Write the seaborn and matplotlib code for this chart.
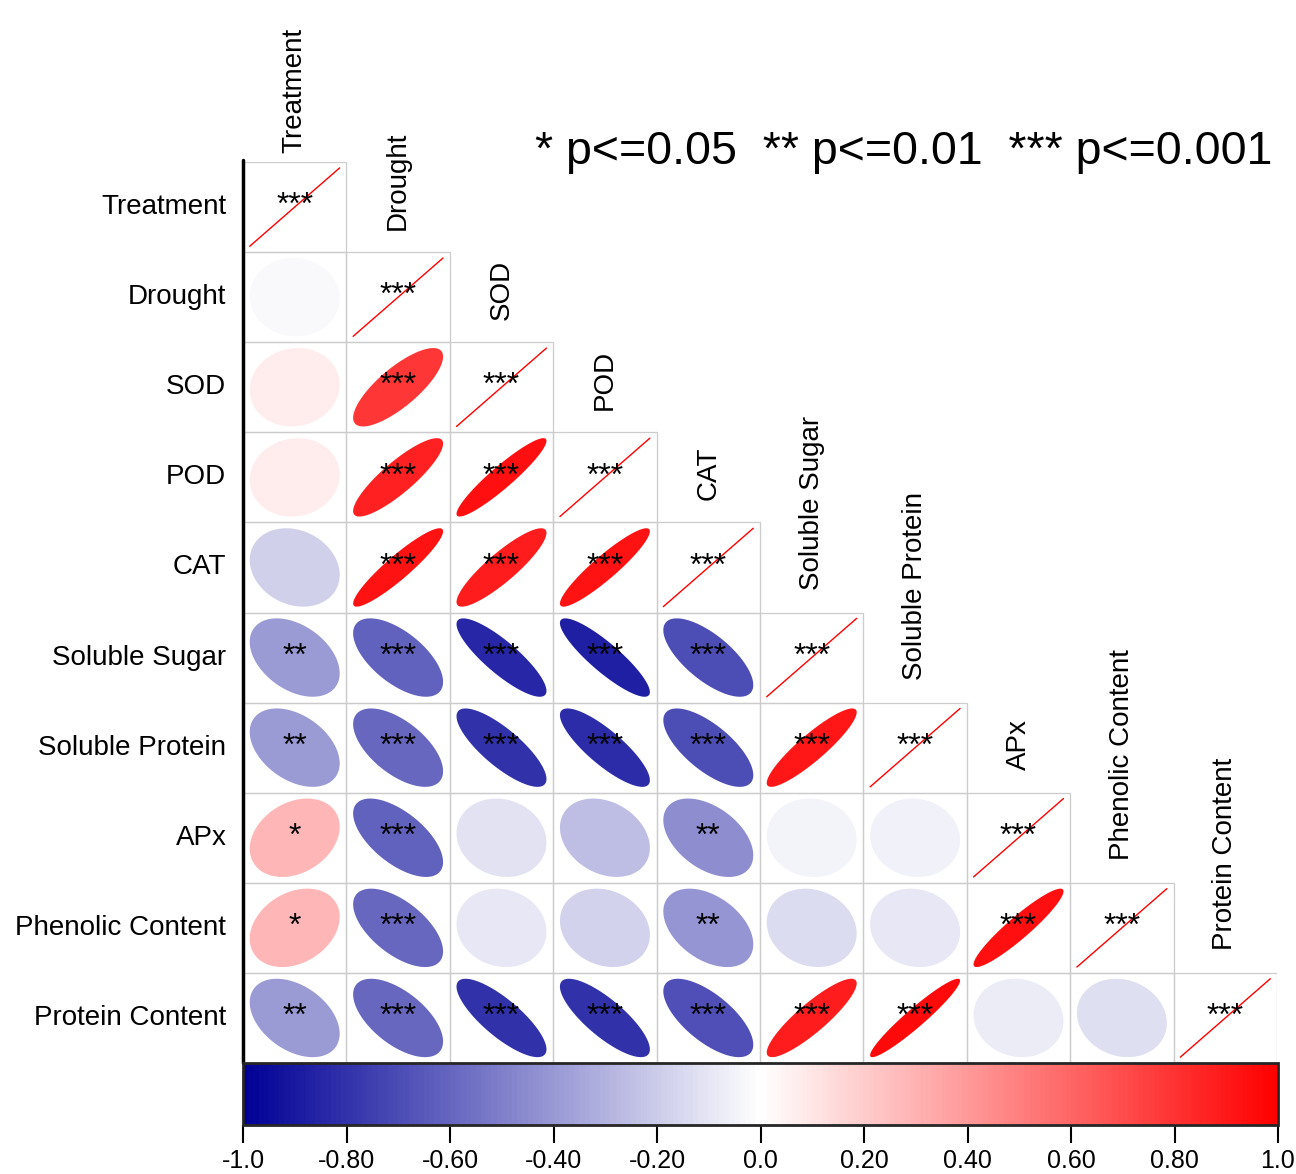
import numpy as np
import pandas as pd
import seaborn as sns
import matplotlib
matplotlib.use('Agg')
import matplotlib.pyplot as plt
from matplotlib.colors import LinearSegmentedColormap, ListedColormap, Normalize
from matplotlib.cm import ScalarMappable
from matplotlib.patches import Polygon, Rectangle

# variables, in plot order
names = ['Treatment', 'Drought', 'SOD', 'POD', 'CAT', 'Soluble Sugar',
         'Soluble Protein', 'APx', 'Phenolic Content', 'Protein Content']

# lower triangle correlations, row by row (columns 0..row-1)
r_drought = [-0.03]
r_sod = [0.07, 0.78]
r_pod = [0.07, 0.86, 0.93]
r_cat = [-0.19, 0.92, 0.88, 0.92]
r_sugar = [-0.40, -0.62, -0.85, -0.88, -0.70]
r_sprot = [-0.40, -0.60, -0.80, -0.83, -0.70, 0.90]
r_apx = [0.28, -0.62, -0.12, -0.26, -0.45, -0.05, -0.06]
r_phen = [0.28, -0.60, -0.10, -0.18, -0.42, -0.14, -0.10, 0.93]
r_prot = [-0.40, -0.60, -0.80, -0.80, -0.68, 0.88, 0.95, -0.08, -0.13]

# significance marks, same layout
s_drought = ['']
s_sod = ['', '***']
s_pod = ['', '***', '***']
s_cat = ['', '***', '***', '***']
s_sugar = ['**', '***', '***', '***', '***']
s_sprot = ['**', '***', '***', '***', '***', '***']
s_apx = ['*', '***', '', '', '**', '', '']
s_phen = ['*', '***', '', '', '**', '', '', '***']
s_prot = ['**', '***', '***', '***', '***', '***', '***', '', '']

cbar_ticks = [-1.0, -0.8, -0.6, -0.4, -0.2, 0.0, 0.2, 0.4, 0.6, 0.8, 1.0]
cbar_labels = ['-1.0', '-0.80', '-0.60', '-0.40', '-0.20', '0.0',
               '0.20', '0.40', '0.60', '0.80', '1.0']

rows_r = [[], r_drought, r_sod, r_pod, r_cat, r_sugar, r_sprot, r_apx, r_phen, r_prot]
rows_s = [[], s_drought, s_sod, s_pod, s_cat, s_sugar, s_sprot, s_apx, s_phen, s_prot]

n = len(names)
corr = np.eye(n)
stars = [['' for _ in range(n)] for _ in range(n)]
for i in range(n):
    stars[i][i] = '***'
    for j, v in enumerate(rows_r[i]):
        corr[i, j] = v
        corr[j, i] = v
        stars[i][j] = rows_s[i][j]
corr_df = pd.DataFrame(corr, index=names, columns=names)

sns.set_style('white')
plt.rcParams['font.family'] = ['Liberation Sans', 'DejaVu Sans']
plt.rcParams['text.color'] = 'black'
plt.rcParams['xtick.color'] = 'black'
plt.rcParams['ytick.color'] = 'black'

cmap = LinearSegmentedColormap.from_list('bwr_corr', ['#000096', '#ffffff', '#ff0000'], N=200)
norm = Normalize(-1, 1)

W, H = 1296, 1174
fig = plt.figure(figsize=(W / 100, H / 100), dpi=100)

x0, x1, y0, y1 = 243, 1277, 162, 1063
ax = fig.add_axes([x0 / W, 1 - y1 / H, (x1 - x0) / W, (y1 - y0) / H])

mask = np.triu(np.ones((n, n), dtype=bool), k=1)
sns.heatmap(corr_df, mask=mask, cmap=ListedColormap(['white']), cbar=False,
            linewidths=0, ax=ax)

k = np.linspace(0, 2 * np.pi, 160)
rad = 0.435
for i in range(n):
    for j in range(i + 1):
        r = corr[i, j]
        cx, cy = j + 0.5, i + 0.5
        ax.add_patch(Rectangle((j, i), 1, 1, facecolor='none', edgecolor='#cccccc', lw=0.9))
        if i == j:
            ax.plot([cx - rad, cx + rad], [cy + rad, cy - rad], color='red', lw=1.0)
        else:
            d = np.arccos(r)
            ex = rad * np.cos(k + d / 2)
            ey = rad * np.cos(k - d / 2)
            ax.add_patch(Polygon(np.column_stack([cx + ex, cy - ey]), closed=True,
                                 facecolor=cmap(norm(r)), edgecolor='none'))
        if stars[i][j]:
            ax.text(cx, cy - 0.01, stars[i][j], ha='center', va='center', fontsize=23, color='black')

# column labels above the diagonal
for j, name in enumerate(names):
    gap = 0.1 if j == 0 else 0.25
    ax.text(j + 0.5, j - gap, name, rotation=90, ha='center', va='bottom',
            fontsize=20, clip_on=False)

ax.set_xticks([])
ax.set_yticks(np.arange(n) + 0.5)
ax.set_yticklabels(names, rotation=0, fontsize=20)
ax.tick_params(axis='y', length=0, pad=12)
ax.set_xlabel('')
ax.set_ylabel('')
ax.plot([0, 0], [-0.02, n], color='black', lw=2.5, clip_on=False)

# colorbar
cb_top, cb_bot = 1063, 1125
cax = fig.add_axes([x0 / W, 1 - cb_bot / H, (1278 - x0) / W, (cb_bot - cb_top) / H])
cb = fig.colorbar(ScalarMappable(norm=norm, cmap=cmap), cax=cax, orientation='horizontal')
cb.set_ticks(cbar_ticks)
cb.set_ticklabels(cbar_labels)
cb.outline.set_linewidth(2)
cax.tick_params(axis='x', length=13, width=1.5, labelsize=18, pad=4)

fig.text(1272 / W, 1 - 152 / H, '* p<=0.05  ** p<=0.01  *** p<=0.001',
         ha='right', va='center', fontsize=33.5)

fig.savefig('out.png', dpi=100)
plt.close(fig)
